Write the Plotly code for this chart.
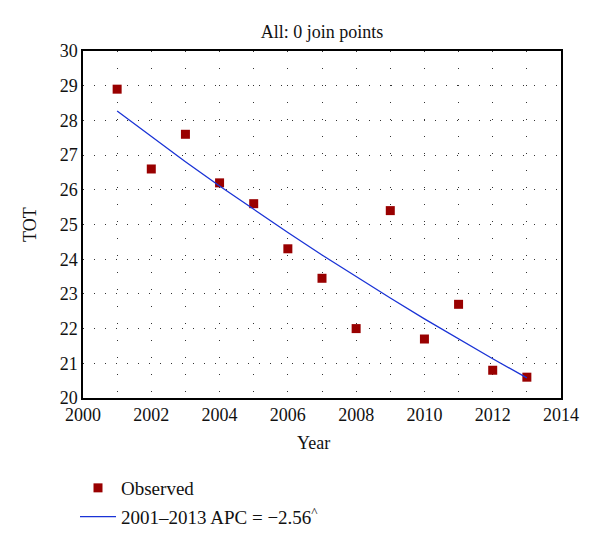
import plotly.graph_objects as go

years = [2001, 2002, 2003, 2004, 2005, 2006, 2007, 2008, 2009, 2010, 2011, 2012, 2013]
observed = [28.9, 26.6, 27.6, 26.2, 25.6, 24.3, 23.45, 22.0, 25.4, 21.7, 22.7, 20.8, 20.6]
fitted = [28.27, 27.53, 26.81, 26.11, 25.43, 24.77, 24.12, 23.49, 22.88, 22.28, 21.70, 21.13, 20.58]
x_ticks = [2000, 2002, 2004, 2006, 2008, 2010, 2012, 2014]
y_ticks = [20, 21, 22, 23, 24, 25, 26, 27, 28, 29, 30]

FONT = "Liberation Serif"
L, R, T, B = 83, 561, 51, 398
PW, PH = R - L, B - T

fig = go.Figure()
fig.add_trace(go.Scatter(
    x=years, y=observed, mode="markers", name="Observed",
    marker=dict(symbol="square", size=9, color="#990000"),
    legendgroup="a",
))
fig.add_trace(go.Scatter(
    x=years, y=fitted, mode="lines", name="2001–2013 APC = −2.56<sup>^</sup>",
    line=dict(color="#1a33d6", width=1.3),
    legendgroup="b",
))

fig.update_layout(
    width=600, height=548,
    margin=dict(l=L, r=600 - R, t=T, b=548 - B, autoexpand=False),
    paper_bgcolor="white", plot_bgcolor="white",
    font=dict(family=FONT, size=18, color="#111"),
    title=dict(text="All: 0 join points", x=(L + R) / 2 / 600, xanchor="center",
               y=1 - 32 / 548, yanchor="middle", font=dict(size=18, family=FONT)),
    showlegend=True,
    legend=dict(x=(75 - L) / PW, xanchor="left", y=(B - 469) / PH, yanchor="top",
                font=dict(size=19, family=FONT), tracegroupgap=1, itemwidth=36,
                bgcolor="rgba(0,0,0,0)"),
    annotations=[
        dict(text="TOT", xref="paper", yref="paper", x=(30 - L) / PW, y=(B - 225) / PH,
             textangle=-90, showarrow=False, xanchor="center", yanchor="middle",
             font=dict(size=18, family=FONT)),
        dict(text="Year", xref="paper", yref="paper", x=(313 - L) / PW, y=(B - 443) / PH,
             showarrow=False, xanchor="center", yanchor="middle",
             font=dict(size=18, family=FONT)),
    ],
)
fig.update_xaxes(
    range=[2000, 2014], tickvals=x_ticks, ticktext=[str(v) for v in x_ticks],
    showline=True, linecolor="black", linewidth=1.5, mirror=True,
    showgrid=True, gridcolor="#333", gridwidth=1, griddash="1px,16px",
    minor=dict(dtick=1, showgrid=True, gridcolor="#333", gridwidth=1, griddash="1px,16px"),
    ticks="", zeroline=False, automargin=False,
    tickfont=dict(size=18, family=FONT),
)
fig.update_yaxes(
    range=[20, 30], tickvals=y_ticks, ticktext=[str(v) for v in y_ticks],
    showline=True, linecolor="black", linewidth=1.5, mirror=True,
    showgrid=True, gridcolor="#333", gridwidth=1, griddash="1px,10px",
    ticks="", zeroline=False, automargin=False,
    tickfont=dict(size=18, family=FONT),
)

fig.write_html("out.html", config={"displayModeBar": False},
               post_script="document.body.style.margin='0';")
